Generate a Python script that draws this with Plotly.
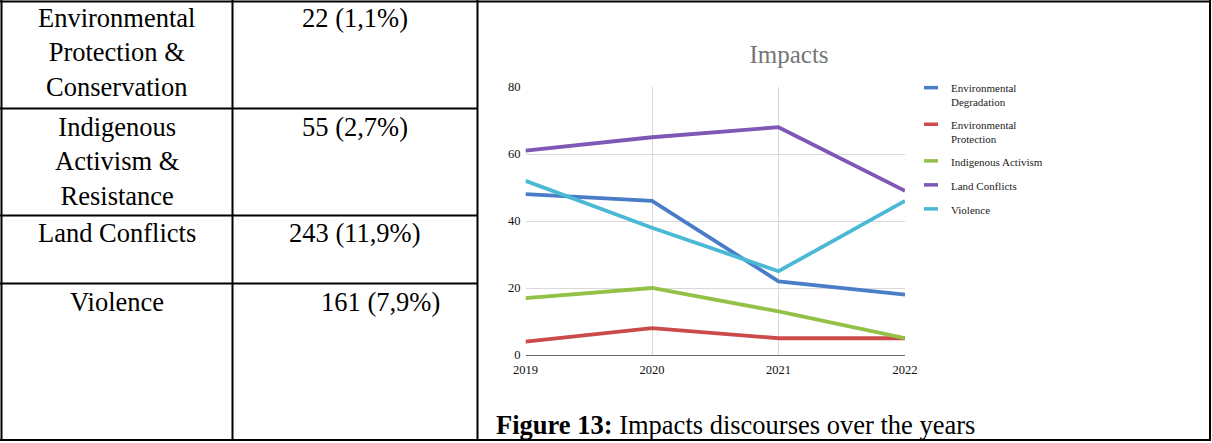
import plotly.graph_objects as go

# ---- data -------------------------------------------------------------
years = [2019, 2020, 2021, 2022]
series_names = [
    "Environmental<br>Degradation",
    "Environmental<br>Protection",
    "Indigenous Activism",
    "Land Conflicts",
    "Violence",
]
env_degradation = [48, 46, 22, 18]
env_protection = [4, 8, 5, 5]
indigenous_activism = [17, 20, 13, 5]
land_conflicts = [61, 65, 68, 49]
violence = [52, 38, 25, 46]
series_values = [env_degradation, env_protection, indigenous_activism,
                 land_conflicts, violence]
series_colors = ["#4a7dc8", "#cc4a4a", "#93c047", "#7e58b5", "#4bb9d5"]

y_ticks = [0, 20, 40, 60, 80]
x_ticks = years

table_labels = [
    "Environmental<br>Protection &<br>Conservation",
    "Indigenous<br>Activism &<br>Resistance",
    "Land Conflicts",
    "Violence",
]
table_counts = ["22 (1,1%)", "55 (2,7%)", "243 (11,9%)", "161 (7,9%)"]

chart_title = "Impacts"
caption = "<b>Figure 13:</b> Impacts discourses over the years"

# ---- page geometry helpers ------------------------------------------------
W, H = 1212, 443


def fx(px):
    return px / W


def fy(py):
    return 1 - py / H


SERIF = "Liberation Serif"

fig = go.Figure()

# chart lines
for name, vals, col in zip(series_names, series_values, series_colors):
    fig.add_trace(go.Scatter(
        x=years, y=vals, mode="lines", name=name,
        line=dict(color=col, width=3.8),
        showlegend=False, hoverinfo="x+y+name",
    ))

# legend entries with short line samples
for i, (name, col) in enumerate(zip(series_names, series_colors)):
    fig.add_trace(go.Scatter(
        x=[None], y=[None], mode="markers", name=name,
        legendgroup=f"g{i}",
        marker=dict(symbol="line-ew", size=10, color=col,
                    line=dict(color=col, width=3.5)),
    ))

# ---- table frame -----------------------------------------------------------
shapes = []


def hline(y, x0, x1):
    shapes.append(dict(type="line", xref="paper", yref="paper",
                       x0=fx(x0), x1=fx(x1), y0=fy(y), y1=fy(y),
                       line=dict(color="black", width=2)))


def vline(x, y0, y1):
    shapes.append(dict(type="line", xref="paper", yref="paper",
                       x0=fx(x), x1=fx(x), y0=fy(y0), y1=fy(y1),
                       line=dict(color="black", width=2)))


hline(1.5, 0, 1211)
hline(440, 0, 1211)
vline(1.5, 0, 441)
vline(232.5, 0, 441)
vline(477.5, 0, 441)
vline(1210, 0, 441)
row_tops = [0, 108.5, 215.5, 283.5]
for y in row_tops[1:]:
    hline(y, 0, 478)

annotations = []
count_x = [355, 355, 355, 380]
for top, lab, cnt, cx in zip(row_tops, table_labels, table_counts, count_x):
    annotations.append(dict(
        text=lab, xref="paper", yref="paper", x=fx(117), y=fy(top + 1),
        xanchor="center", yanchor="top", align="center", showarrow=False,
        font=dict(family=SERIF, size=26.5, color="black")))
    annotations.append(dict(
        text=cnt, xref="paper", yref="paper", x=fx(cx), y=fy(top + 1),
        xanchor="center", yanchor="top", align="center", showarrow=False,
        font=dict(family=SERIF, size=26.5, color="black")))

annotations.append(dict(
    text=caption, xref="paper", yref="paper", x=fx(494), y=fy(408),
    xanchor="left", yanchor="top", align="left", showarrow=False,
    font=dict(family=SERIF, size=26.5, color="black")))

fig.update_layout(
    width=W, height=H,
    margin=dict(l=0, r=0, t=0, b=0, pad=0, autoexpand=False),
    paper_bgcolor="white", plot_bgcolor="white",
    title=dict(text=chart_title, x=fx(789), y=fy(54),
               xanchor="center", yanchor="middle",
               font=dict(family=SERIF, size=25, color="#757575")),
    xaxis=dict(domain=[fx(525.5), fx(905)], range=[2019, 2022],
               tickvals=x_ticks, ticktext=[str(v) for v in x_ticks],
               showgrid=True, gridcolor="#d9d9d9", gridwidth=1,
               showline=True, linecolor="#6b6b6b", linewidth=1,
               zeroline=False, ticks="", ticklabelstandoff=3,
               automargin=False,
               tickfont=dict(family=SERIF, size=12.5, color="#111")),
    yaxis=dict(domain=[fy(355), fy(87)], range=[0, 80],
               tickvals=y_ticks, showgrid=True, gridcolor="#d9d9d9",
               gridwidth=1, zeroline=False, showline=False, ticks="",
               ticklabelstandoff=4, automargin=False,
               tickfont=dict(family=SERIF, size=12.5, color="#111")),
    legend=dict(x=fx(911), y=fy(74), xanchor="left", yanchor="top",
                bgcolor="rgba(0,0,0,0)", tracegroupgap=5, valign="top",
                font=dict(family=SERIF, size=11, color="#222")),
    shapes=shapes,
    annotations=annotations,
)

# page body without default margins so the figure fills the window exactly
fig.write_html(
    "out.html",
    post_script="document.body.style.margin='0';"
                "document.body.style.overflow='hidden';",
)
